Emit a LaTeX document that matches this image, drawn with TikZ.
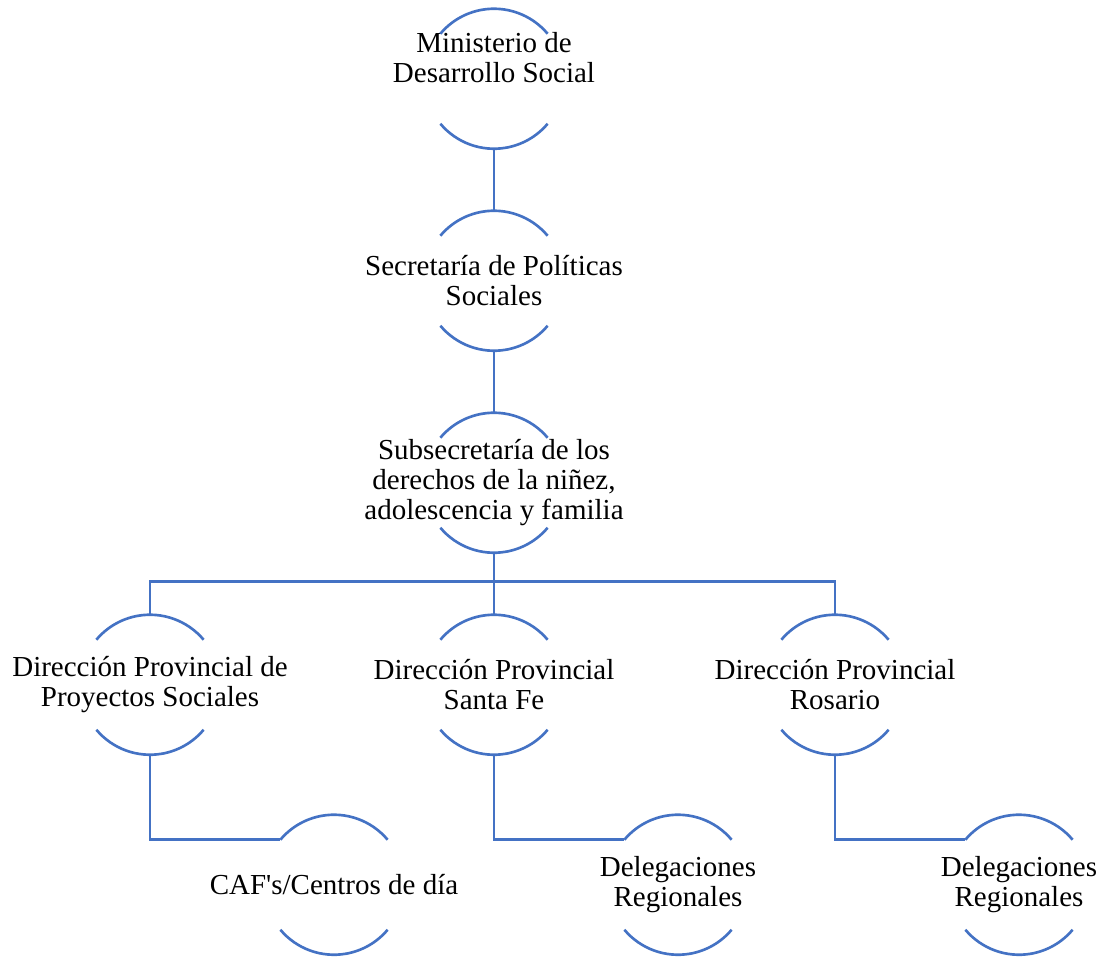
\documentclass[tikz,border=0pt]{standalone}
\usepackage{fontspec}
\setmainfont{Liberation Serif}
\usetikzlibrary{calc}
\usetikzlibrary{positioning}

\definecolor{orgblue}{RGB}{68,114,196}

\tikzset{
  orgunit/.style={circle,minimum size=2.8cm,inner sep=0pt,outer sep=0pt},
  orgtext/.style={align=center,inner sep=0pt,font=\fontsize{16.5}{17}\selectfont},
  orgline/.style={draw=orgblue,line width=1.5pt}
}

\begin{document}
\begin{tikzpicture}

\useasboundingbox[fill=white] (0,0) rectangle (22.04,-19.18);

\coordinate (TOP) at (9.88,-1.575);

%%%%%%%%%%%%%%%%%%%
% upper levels
\node[orgunit,label={[orgtext,yshift=0.42cm]center:Ministerio de\\Desarrollo Social}] at (TOP) (MINIST) {};
\node[orgunit,label={[orgtext]center:Secretaría de Políticas\\Sociales}] at ($(TOP)+(0,-4.04)$) (SECRET) {};
\node[orgunit,label={[orgtext]center:Subsecretaría de los\\derechos de la niñez,\\adolescencia y familia}] at ($(SECRET)+(0,-4.04)$) (SUBSEC) {};

%%%%%%%%%%%%%%%%%%%
% direcciones
\node[orgunit,label={[orgtext]center:Dirección Provincial de\\Proyectos Sociales}] at ($(SUBSEC)+(-6.88,-4.04)$) (DIRPROY) {};
\node[orgunit,label={[orgtext]center:Dirección Provincial\\Santa Fe}] at ($(SUBSEC)+(0,-4.04)$) (DIRSF) {};
\node[orgunit,label={[orgtext]center:Dirección Provincial\\Rosario}] at ($(SUBSEC)+(6.82,-4.04)$) (DIRROS) {};

% lowest level
\node[orgunit,label={[orgtext]center:CAF\textquotesingle s/Centros de día}] at ($(DIRPROY)+(3.68,-4.0)$) (CAF) {};
\node[orgunit,label={[orgtext]center:Delegaciones\\Regionales}] at ($(DIRSF)+(3.68,-4.0)$) (DELSF) {};
\node[orgunit,label={[orgtext]center:Delegaciones\\Regionales}] at ($(DIRROS)+(3.68,-4.0)$) (DELROS) {};

% upper and lower arcs of every unit
\foreach \unit in {MINIST,SECRET,SUBSEC,DIRPROY,DIRSF,DIRROS,CAF,DELSF,DELROS}{
  \draw[orgline] (\unit.40) arc[start angle=40,end angle=140,radius=1.4cm];
  \draw[orgline] (\unit.220) arc[start angle=220,end angle=320,radius=1.4cm];
}

%%%%%%%%%%%%%%%%%%%
% connectors
\coordinate (BUS) at ($(SUBSEC.south)+(0,-0.57)$);
\draw[orgline] (MINIST) -- (SECRET);
\draw[orgline] (SECRET) -- (SUBSEC);
\draw[orgline] (SUBSEC) -- (DIRSF);
\draw[orgline] (DIRPROY.north) |- (BUS) -| (DIRROS.north);
\draw[orgline] (DIRPROY.south) |- (CAF.140);
\draw[orgline] (DIRSF.south) |- (DELSF.140);
\draw[orgline] (DIRROS.south) |- (DELROS.140);

\end{tikzpicture}
\end{document}
